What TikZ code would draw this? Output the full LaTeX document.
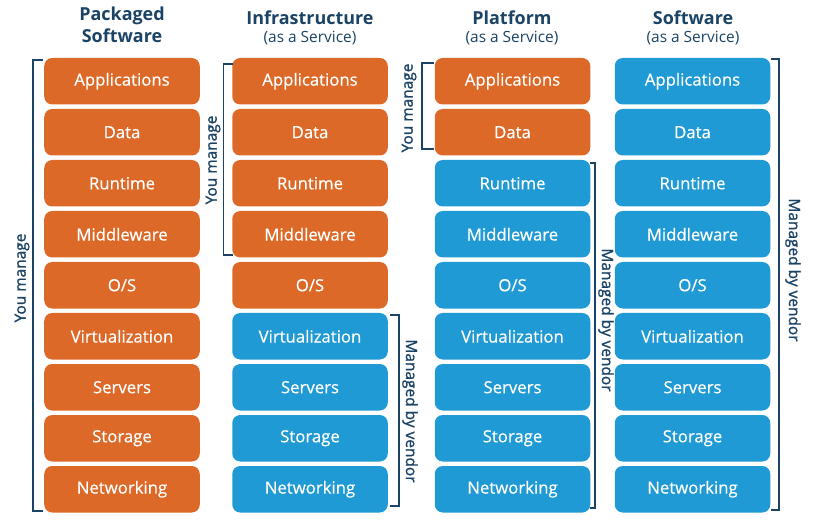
\documentclass[tikz,border=0pt]{standalone}
\usepackage{fontspec}
\setmainfont{Open Sans}
\newfontfamily\lblfont[FakeBold=1.2]{Open Sans}
\newfontfamily\boxfont[FakeBold=0.5]{Open Sans}
\definecolor{orng}{RGB}{221,105,40}
\definecolor{blu}{RGB}{31,154,212}
\definecolor{navy}{RGB}{27,67,101}
\begin{document}
\begin{tikzpicture}[x=1bp,y=-1bp,
  box/.style={rounded corners=8bp, minimum width=155.5bp, minimum height=46.5bp, inner sep=0pt, text=white, font=\boxfont\fontsize{16.8}{18}\selectfont},
  obox/.style={box, fill=orng},
  bbox/.style={box, fill=blu},
  brk/.style={draw=navy, line width=1.8bp},
  lbl/.style={text=navy, font=\lblfont\fontsize{15.5}{18}\selectfont, inner sep=0pt},
  ttl/.style={text=navy, font=\fontsize{18}{20}\bfseries\selectfont, inner sep=0pt},
  sub/.style={text=navy, font=\fontsize{15.5}{18}\selectfont, inner sep=0pt}]
\useasboundingbox (0,0) rectangle (816,524);
\fill[white] (0,0) rectangle (816,524);
% titles
\node[ttl] (t1a) at (122,16) {Packaged};
\node[ttl] (t1b) at (122,36) {Software};
\node[ttl] (t2a) at (310,18) {Infrastructure};
\node[sub] (t2b) at (310,38) {(as a Service)};
\node[ttl] (t3a) at (512,18) {Platform};
\node[sub] (t3b) at (512,38) {(as a Service)};
\node[ttl] (t4a) at (693,18) {Software};
\node[sub] (t4b) at (693,38) {(as a Service)};
% boxes
\foreach \i/\t in {0/Applications,1/Data,2/Runtime,3/Middleware,4/O\slash S,5/Virtualization,6/Servers,7/Storage,8/Networking}{
  \pgfmathsetmacro{\yy}{81.25+51*\i}
  \node[obox] (c1r\i) at (122,\yy) {\t};
  \ifnum\i<5
    \node[obox] (c2r\i) at (310,\yy) {\t};
  \else
    \node[bbox] (c2r\i) at (310,\yy) {\t};
  \fi
  \ifnum\i<2
    \node[obox] (c3r\i) at (512.5,\yy) {\t};
  \else
    \node[bbox] (c3r\i) at (512.5,\yy) {\t};
  \fi
  \node[bbox] (c4r\i) at (692.5,\yy) {\t};
}
% brackets
\draw[brk] (43,60) -- (33,60) -- (33,511) -- (43,511);
\node[lbl, rotate=90] (l1) at (22,278) {You manage};
\draw[brk] (233,64) -- (223.5,64) -- (223.5,255) -- (233,255);
\node[lbl, rotate=90] (l2) at (213,160) {You manage};
\draw[brk] (390,315) -- (399,315) -- (399,506) -- (390,506);
\node[lbl, rotate=-90] (l3) at (410,411) {Managed by vendor};
\draw[brk] (434,63) -- (422,63) -- (422,149) -- (434,149);
\node[lbl, rotate=90] (l4) at (409,108) {You manage};
\draw[brk] (590,163) -- (595,163) -- (595,508) -- (590,508);
\node[lbl, rotate=-90] (l5) at (606,320) {Managed by vendor};
\draw[brk] (771,59) -- (779,59) -- (779,510) -- (771,510);
\node[lbl, rotate=-90] (l6) at (793,270) {Managed by vendor};
\end{tikzpicture}
\end{document}
